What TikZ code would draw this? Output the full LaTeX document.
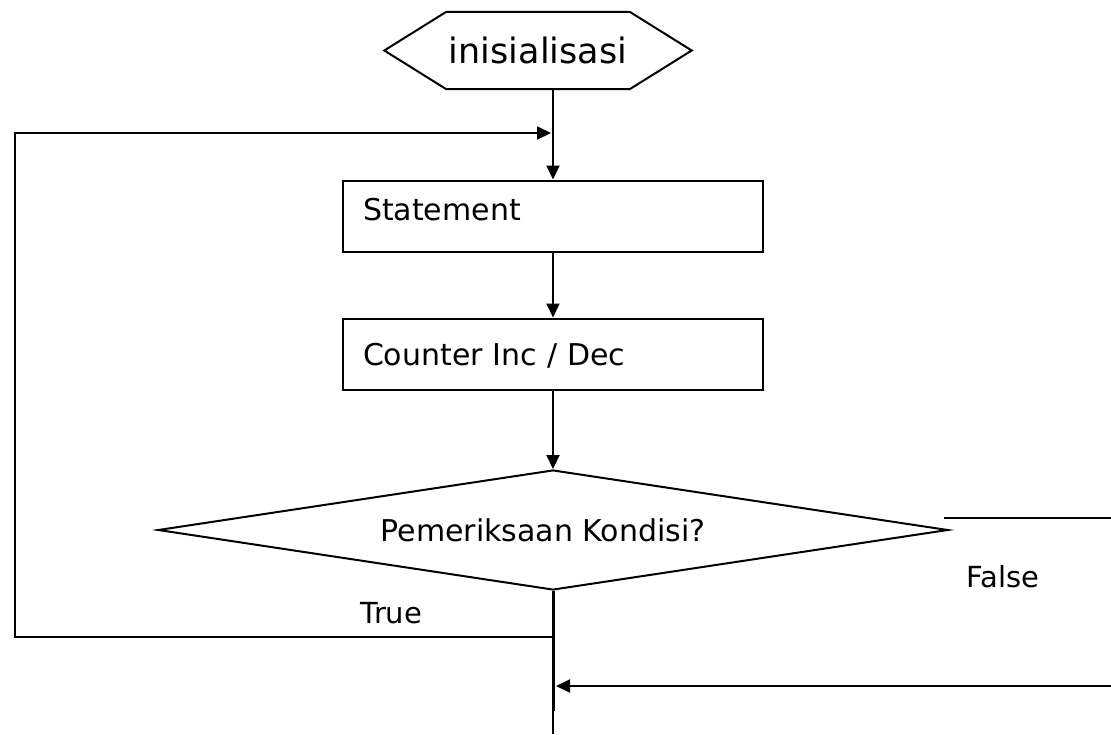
\documentclass[tikz,border=0pt]{standalone}
\usepackage{fontspec}
\setmainfont{DejaVu Sans}
\usetikzlibrary{shapes.geometric,arrows.meta}
\begin{document}
\begin{tikzpicture}[x=1pt,y=-1pt,
        every node/.style={font=\fontsize{30pt}{36pt}\selectfont},
        line/.style={line width=2pt},
        flow/.style={line width=2pt,-{Triangle[length=14pt,width=13pt]}},
        stmtbox/.style={draw,line width=2pt,minimum width=420pt,minimum height=71pt,inner xsep=20pt,inner ysep=0pt,text width=380pt,align=left,text height=22pt}]
    \useasboundingbox (0,0) rectangle (1111,734);
    \node[minimum width=307pt,minimum height=77pt,inner sep=0pt,font=\fontsize{35pt}{42pt}\selectfont] (init) at (538,50.5) {inisialisasi};
    \draw[line] (init.west) -- ([xshift=62pt]init.north west) -- ([xshift=-62pt]init.north east) -- (init.east)
        -- ([xshift=-62pt]init.south east) -- ([xshift=62pt]init.south west) -- cycle;
    \node[stmtbox,text depth=14pt] (stmt) at (553,216) {Statement};
    \node[stmtbox,text depth=0pt] (count) at (553,354) {Counter Inc / Dec};
    \node[draw,diamond,line width=2pt,minimum width=790pt,minimum height=120pt,inner sep=0pt,aspect=6.5] (cond) at (553,530) {\hspace*{-20pt}Pemeriksaan Kondisi?};
    \node[anchor=base west,font=\fontsize{29pt}{35pt}\selectfont] (true) at (357,623) {True};
    \node[anchor=base west,font=\fontsize{29pt}{35pt}\selectfont] (false) at (963,587) {False};
    % free ends of the connectors
    \coordinate (truejoin) at (553,637);
    \coordinate (loopin) at (551,133);
    \coordinate (falseend) at (1111,518);
    \coordinate (backstart) at (1111,686);
    \coordinate (backin) at (556,686);
    \coordinate (thickend) at (553,711);
    \coordinate (bottom) at (553,734);
    \draw[flow] (init.south -| stmt.north) -- (stmt.north);
    \draw[flow] (stmt) -- (count);
    \draw[flow] (count) -- (cond);
    \draw[line width=3pt] (cond.south) -- (thickend);
    \draw[line] (thickend) -- (bottom);
    \draw[flow] (truejoin) -- (15,637) |- (loopin);
    \draw[line] ([xshift=-5pt,yshift=12pt]cond.east) -- (falseend);
    \draw[flow] (backstart) -- (backin);
\end{tikzpicture}
\end{document}
